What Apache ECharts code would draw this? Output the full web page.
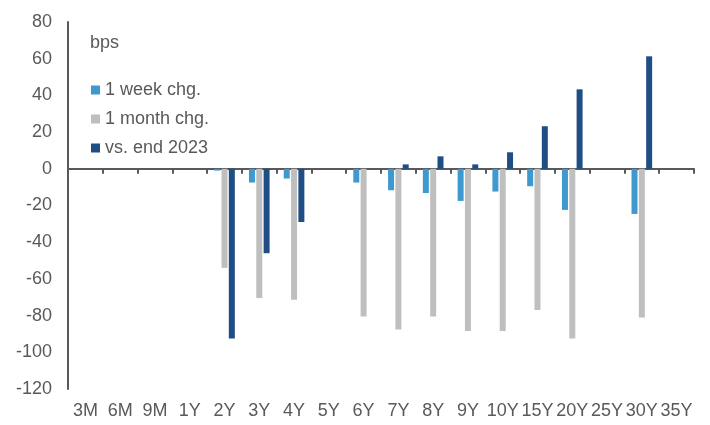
<!DOCTYPE html>
<html>
<head>
<meta charset="utf-8">
<script src="https://cdn.jsdelivr.net/npm/echarts@6/dist/echarts.min.js"></script>
<style>html,body{margin:0;padding:0;background:#fff}#c{width:710px;height:425px}</style>
</head>
<body>
<div id="c"></div>
<script>
const categories = ['3M','6M','9M','1Y','2Y','3Y','4Y','5Y','6Y','7Y','8Y','9Y','10Y','15Y','20Y','25Y','30Y','35Y'];
const weekChg  = [null,null,null,null,-1,-7.5,-5.3,null,-7.5,-11.7,-13.2,-17.5,-12.4,-9.5,-22.4,null,-24.6,null];
const monthChg = [null,null,null,null,-54,-70.4,-71.3,null,-80.5,-87.6,-80.5,-88.4,-88.4,-77,-92.5,null,-81.1,null];
const vsEnd2023 = [null,null,null,null,-92.5,-46,-29,null,null,2.4,6.8,2.4,9,23.2,43.3,null,61.3,null];
const yTicks = { min: -120, max: 80, interval: 20 };

const txt = '#595959';
const font = 'Liberation Sans, Arial, sans-serif';
const chart = echarts.init(document.getElementById('c'));
chart.setOption({
  animation: false,
  backgroundColor: '#fff',
  textStyle: { fontFamily: font },
  title: {
    text: 'bps', left: 90, top: 34, padding: 0,
    textStyle: { color: txt, fontSize: 18, fontWeight: 'normal', fontFamily: font }
  },
  legend: {
    orient: 'vertical', left: 91, top: 81, padding: 0,
    itemWidth: 9, itemHeight: 9, itemGap: 11,
    icon: 'rect',
    textStyle: { color: txt, fontSize: 18, fontFamily: font },
    data: ['1 week chg.', '1 month chg.', 'vs. end 2023']
  },
  grid: { left: 68, right: 16, top: 22, bottom: 36, containLabel: false },
  xAxis: [
    {
      type: 'category', data: categories,
      axisLine: { onZero: true, lineStyle: { color: txt, width: 2 } },
      axisTick: { show: true, inside: false, length: 5, lineStyle: { color: txt, width: 2 } },
      axisLabel: { show: false }
    },
    {
      type: 'category', data: categories, position: 'bottom',
      axisLine: { show: false, onZero: false },
      axisTick: { show: false },
      axisLabel: { color: txt, fontSize: 18, fontFamily: font, margin: 13, interval: 0 }
    }
  ],
  yAxis: {
    type: 'value', min: yTicks.min, max: yTicks.max, interval: yTicks.interval,
    axisLine: { show: true, lineStyle: { color: txt, width: 2 } },
    axisTick: { show: false },
    splitLine: { show: false },
    axisLabel: { color: txt, fontSize: 18, fontFamily: font, margin: 16 }
  },
  series: [
    { name: '1 week chg.', type: 'bar', data: weekChg, xAxisIndex: 0, barWidth: 6, barGap: '22%',
      itemStyle: { color: '#3D99CE' } },
    { name: '1 month chg.', type: 'bar', data: monthChg, xAxisIndex: 0, barWidth: 6, barGap: '22%',
      itemStyle: { color: '#BFBFBF' } },
    { name: 'vs. end 2023', type: 'bar', data: vsEnd2023, xAxisIndex: 0, barWidth: 6, barGap: '22%',
      itemStyle: { color: '#1F4E85' } }
  ]
});
</script>
</body>
</html>
